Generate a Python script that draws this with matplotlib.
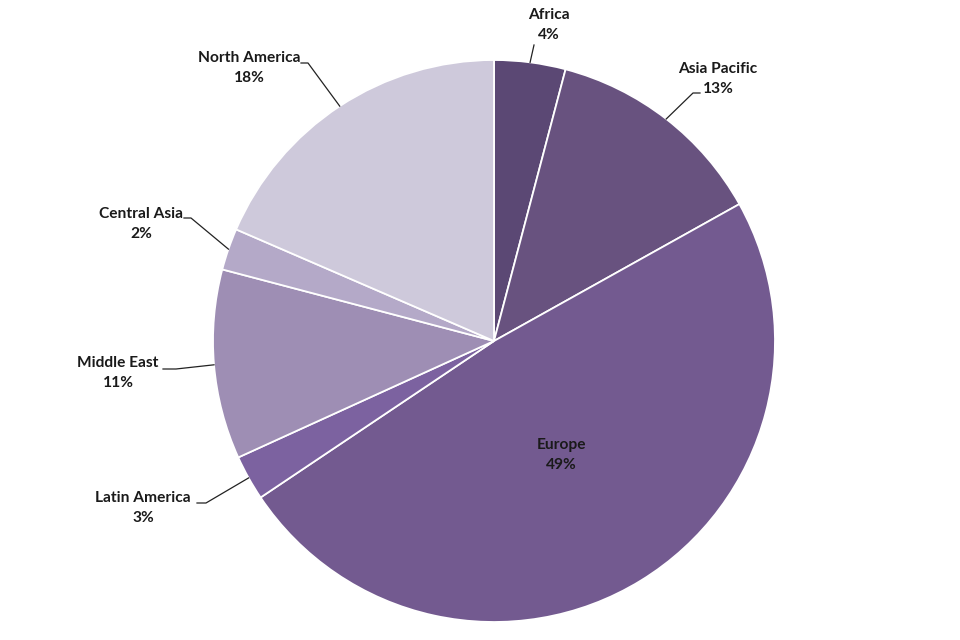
import numpy as np
import matplotlib
matplotlib.use("Agg")
import matplotlib.pyplot as plt

# regional share, clockwise from 12 o'clock
regions = ["Africa", "Asia Pacific", "Europe", "Latin America",
           "Middle East", "Central Asia", "North America"]
shares = [4.1, 12.8, 48.7, 2.6, 10.9, 2.4, 18.5]
pct_labels = ["4%", "13%", "49%", "3%", "11%", "2%", "18%"]
colors = ["#5b4874", "#68527f", "#735a90", "#7c62a0",
          "#9e8eb4", "#b4a9c8", "#cec9db"]

W, H = 960, 640
cx, cy, rad = 494, 341, 281

# label centre positions (pixels) and leader line elbow points near the label
label_pos = {
    "Africa": (549, 25),
    "Asia Pacific": (718, 79),
    "Europe": (561, 455),
    "Latin America": (143, 508),
    "Middle East": (118, 373),
    "Central Asia": (141, 224),
    "North America": (249, 68),
}
leader_start = {
    "Africa": [(534, 45)],
    "Asia Pacific": [(700, 93), (693, 93)],
    "Latin America": [(197, 503), (206, 503)],
    "Middle East": [(163, 369), (176, 369)],
    "Central Asia": [(184, 218), (191, 218)],
    "North America": [(301, 63), (308, 63)],
}

plt.rcParams['font.family'] = ['Lato', 'DejaVu Sans']

fig = plt.figure(figsize=(W / 100, H / 100), dpi=100)
ax = fig.add_axes([0, 0, 1, 1])

wedges, _ = ax.pie(shares, colors=colors, startangle=-90, counterclock=True,
                   center=(cx, cy), radius=rad,
                   wedgeprops=dict(edgecolor="white", linewidth=1.3))
ax.set_xlim(0, W)
ax.set_ylim(H, 0)
ax.set_aspect("equal")
ax.axis("off")

for w, name, pct in zip(wedges, regions, pct_labels):
    tx, ty = label_pos[name]
    ax.text(tx, ty, name + "\n" + pct, ha="center", va="center",
            fontsize=11.2, fontweight="bold", color="#1a1a1a", linespacing=1.57)
    if name in leader_start:
        mid = np.deg2rad((w.theta1 + w.theta2) / 2)
        ex, ey = cx + rad * np.cos(mid), cy + rad * np.sin(mid)
        pts = leader_start[name] + [(ex, ey)]
        xs, ys = zip(*pts)
        ax.plot(xs, ys, color="#222222", lw=0.9)

fig.savefig("out.png", dpi=100)
